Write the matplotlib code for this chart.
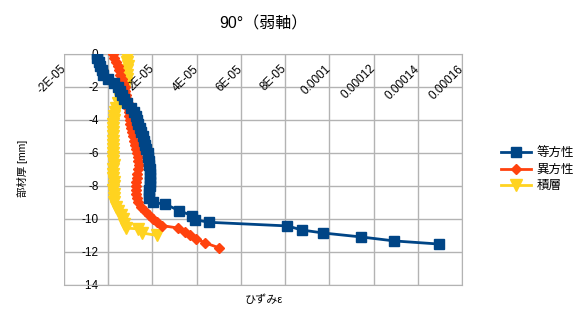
# Perfil de deformación a través del espesor (90°, eje débil).
import numpy as np
import matplotlib
matplotlib.use('Agg')
import matplotlib.pyplot as plt
from matplotlib import transforms

plt.rcParams['font.family'] = ['Liberation Sans', 'Noto Sans CJK JP', 'DejaVu Sans']

# Datos (deformación en micro-strain, espesor en mm).
espesorIso = [0, -0.25, -0.5, -0.75, -1.0, -1.25, -1.5, -1.75, -2.0, -2.25, -2.5, -2.75,
              -3.0, -3.25, -3.5, -3.75, -4.0, -4.25, -4.5, -4.75, -5.0, -5.25, -5.5, -5.75,
              -6.0, -6.25, -6.5, -6.75, -7.0, -7.25, -7.5, -7.75, -8.0, -8.25, -8.5, -8.75,
              -9.0, -9.1, -9.5, -9.8, -10.05, -10.2, -10.42, -10.67, -10.85, -11.09, -11.33, -11.52]
deformIso = [-5.2, -5.0, -4.3, -3.6, -2.9, -2.3, 0.0, 2.7, 4.5, 5.4, 6.3, 7.2,
             8.6, 10.4, 11.8, 12.4, 13.1, 13.6, 14.3, 14.9, 15.6, 16.1, 16.7, 17.2,
             17.9, 18.1, 18.3, 18.6, 18.8, 19.0, 19.0, 19.0, 18.8, 18.6, 18.3, 18.6,
             20.4, 25.8, 32.1, 38.0, 39.4, 45.7, 81.0, 87.7, 97.3, 114.5, 129.4, 149.8]

espesorAniso = [0, -0.25, -0.5, -0.75, -1.0, -1.25, -1.5, -1.75, -2.0, -2.25, -2.5, -2.75,
                -3.0, -3.25, -3.5, -3.75, -4.0, -4.25, -4.5, -4.75, -5.0, -5.25, -5.5, -5.75,
                -6.0, -6.25, -6.5, -6.75, -7.0, -7.25, -7.5, -7.75, -8.0, -8.25, -8.5, -8.75,
                -9.0, -9.25, -9.5, -9.75, -10.0, -10.2, -10.4, -10.55, -10.8, -11.0, -11.2,
                -11.45, -11.75]
deformAniso = [2.3, 2.7, 3.6, 4.5, 5.0, 5.4, 6.3, 6.8, 7.5, 7.7, 8.1, 8.6,
               8.8, 9.0, 9.3, 9.5, 9.7, 10.0, 10.4, 10.9, 11.3, 11.8, 12.2, 12.7,
               13.1, 13.3, 13.6, 13.8, 13.6, 13.1, 12.9, 12.7, 12.7, 12.7, 12.7, 12.9,
               13.6, 14.9, 16.5, 18.3, 20.4, 22.2, 24.4, 31.7, 34.8, 37.1, 39.8,
               43.9, 50.2]

espesorLam = [0, -0.25, -0.5, -0.75, -1.0, -1.25, -1.5, -1.75, -2.0, -2.25, -2.5, -2.75,
              -3.0, -3.25, -3.5, -3.75, -4.0, -4.25, -4.5, -4.75, -5.0, -5.25, -5.5, -5.75,
              -6.0, -6.25, -6.5, -6.75, -7.0, -7.25, -7.5, -7.75, -8.0, -8.25, -8.5, -8.75,
              -9.0, -9.25, -9.5, -9.75, -10.0, -10.3, -10.55, -10.6, -10.85, -11.0]
deformLam = [8.6, 8.6, 8.6, 8.8, 8.6, 8.6, 8.4, 8.1, 7.7, 7.0, 6.3, 5.4,
             4.5, 3.6, 3.2, 2.7, 2.5, 2.3, 2.3, 2.1, 2.0, 2.1, 2.3, 2.1,
             2.0, 2.1, 2.3, 2.5, 2.3, 2.1, 2.3, 2.5, 2.5, 2.3, 2.5, 2.7,
             2.7, 3.4, 4.5, 5.7, 6.6, 7.2, 8.1, 13.6, 15.4, 22.2]

etiquetas = ['等方性', '異方性', '積層']
colores = ['#004586', '#ff420e', '#ffd320']

marcasX = [-2e-05, 0, 2e-05, 4e-05, 6e-05, 8e-05, 1e-04, 1.2e-04, 1.4e-04, 1.6e-04]
textosX = ['-2E-05', '0', '2E-05', '4E-05', '6E-05', '8E-05', '0.0001', '0.00012', '0.00014', '0.00016']
marcasY = [0, -2, -4, -6, -8, -10, -12, -14]

fig = plt.figure(figsize=(5.81, 3.36), dpi=100)
ax = fig.add_axes([0.1102, 0.1518, 0.685, 0.6875])

# Se grafican las series (la primera queda encima).
ax.plot(np.array(deformIso) * 1e-6, espesorIso, color=colores[0], marker='s', ms=7,
        lw=2, label=etiquetas[0], zorder=5)
ax.plot(np.array(deformAniso) * 1e-6, espesorAniso, color=colores[1], marker='D', ms=5.5,
        lw=2, label=etiquetas[1], zorder=4)
ax.plot(np.array(deformLam) * 1e-6, espesorLam, color=colores[2], marker='v', ms=8,
        lw=2, label=etiquetas[2], zorder=3)

ax.set_xlim(-2e-05, 1.6e-04)
ax.set_ylim(-14, 0)
ax.set_xticks(marcasX)
ax.set_yticks(marcasY)
ax.grid(True, color='#b3b3b3', lw=1)
ax.set_axisbelow(True)
for lado in ax.spines.values():
    lado.set_color('#b3b3b3')
ax.spines['left'].set_position(('data', 0))

ax.tick_params(axis='x', length=0, labelbottom=False)
ax.tick_params(axis='y', length=0, pad=7, labelsize=8.5)
ax.set_yticklabels([str(v) for v in marcasY])

# Etiquetas del eje x rotadas bajo la línea y=0.
trans = transforms.offset_copy(ax.get_xaxis_transform(), fig=fig, y=-9.4, units='points')
for valor, texto in zip(marcasX, textosX):
    ax.text(valor, 1, texto, transform=trans, rotation=45, rotation_mode='anchor',
            ha='right', va='center', fontsize=8.5, clip_on=False)

fig.text(0.453, 0.929, '90°（弱軸）', ha='center', va='center', fontsize=11.5)
fig.text(0.454, 0.107, 'ひずみε', ha='center', va='center', fontsize=8)
fig.text(0.038, 0.5, '部材厚 [mm]', ha='center', va='center', rotation=90, fontsize=7.5)

fig.legend(loc='center left', bbox_to_anchor=(0.852, 0.494), frameon=False, fontsize=9,
           handlelength=2.4, labelspacing=0.35, numpoints=1, borderpad=0, handletextpad=0.4)

fig.savefig('out.png', dpi=100)
